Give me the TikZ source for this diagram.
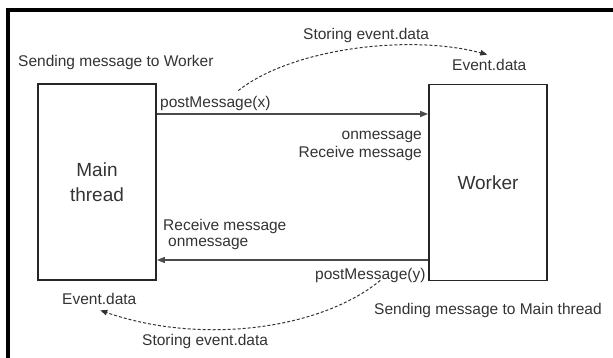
\documentclass[tikz,border=0pt]{standalone}
\usepackage{fontspec}
\setmainfont{Liberation Sans}
\usetikzlibrary{arrows.meta}
\definecolor{ink}{HTML}{333333}
\definecolor{wire}{HTML}{4A4A4A}
\begin{document}
\begin{tikzpicture}[x=1pt,y=-1pt,
  lbl/.style={font=\fontsize{15.5}{19}\selectfont, text=ink, inner sep=0pt},
  box/.style={draw=black!85, line width=1.8pt, minimum width=118pt, minimum height=196pt,
    font=\fontsize{19}{25}\selectfont, text=ink, align=center, inner sep=0pt},
  msg/.style={draw=wire, line width=1.3pt, -{Triangle[length=8pt,width=6pt]}},
  store/.style={draw=ink, line width=1pt, dash pattern=on 3pt off 2pt,
    -{Triangle[length=7pt,width=5.5pt]}}]
\useasboundingbox (0,0) rectangle (613,358);
% outer frame, only its top and left edges show
\draw[line width=4pt, line cap=rect] (8,358) -- (8,10.5) -- (613,10.5);

% the two threads
\node[box] (main) at (97,182) {Main\\thread};
\node[box] (worker) at (488,182.5) {Worker};

% labels
\node[lbl, anchor=base west] (sendw) at (18,67) {Sending message to Worker};
\node[lbl, anchor=base west] (px) at (160,108) {postMessage(x)};
\node[lbl, anchor=base west] (st1) at (303,40) {Storing event.data};
\node[lbl, anchor=base west] (ed1) at (452,71) {Event.data};
\node[lbl, anchor=base east] (onw) at (422,140) {onmessage};
\node[lbl, anchor=base east] (rcw) at (422,158) {Receive message};
\node[lbl, anchor=base west] (rcm) at (163,230) {Receive message};
\node[lbl, anchor=base west] (onm) at (168,247) {onmessage};
\node[lbl, anchor=base west] (py) at (315,279) {postMessage(y)};
\node[lbl, anchor=base west] (sendm) at (374,314) {Sending message to Main thread};
\node[lbl, anchor=base west] (ed2) at (62,304) {Event.data};
\node[lbl, anchor=base west] (st2) at (142,345) {Storing event.data};

% message arrows
\coordinate (lane1) at (0,114);
\coordinate (lane2) at (0,260);
\draw[msg] (main.east |- lane1) -- (worker.west |- lane1);
\draw[msg] (worker.west |- lane2) -- (main.east |- lane2);

% storing the received data
\draw[store] ([xshift=23pt,yshift=6pt]px.north) .. controls (292,48) and (410,34) .. ([xshift=-2pt,yshift=5pt]ed1.north);
\draw[store] ([xshift=10pt,yshift=2pt]py.south) .. controls (320,330) and (200,345) .. ([xshift=1pt,yshift=-6pt]ed2.south);
\end{tikzpicture}
\end{document}
